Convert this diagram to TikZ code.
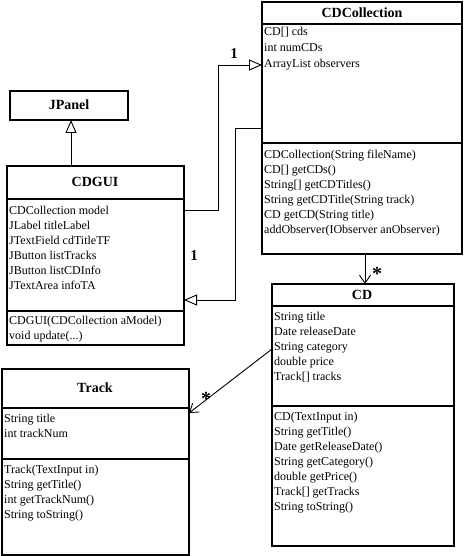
\documentclass[tikz,border=0pt]{standalone}
\usepackage{fontspec}
\setmainfont{Liberation Serif}
\newfontfamily\umlfont{Liberation Serif}
\usetikzlibrary{arrows.meta}
\begin{document}
\begin{tikzpicture}[x=1pt,y=-1pt,
  box/.style={draw, line width=2pt, anchor=north west, inner sep=0pt, outer sep=0pt},
  sep/.style={line width=1.6pt},
  attr/.style={anchor=west, inner sep=0pt, font=\umlfont\fontsize{12}{15}\selectfont, text height=9pt, text depth=3pt},
  ttl/.style={font=\umlfont\fontsize{14}{16}\selectfont\bfseries, inner sep=0pt},
  conn/.style={line width=0.9pt},
  gen/.style={conn, -{Triangle[open, length=13pt, width=11pt, line width=0.9pt]}},
  nav/.style={conn, -{Straight Barb[length=8pt, width=11pt, line width=0.9pt]}},
  mult/.style={font=\umlfont\fontsize{15}{16}\selectfont\bfseries, inner sep=0pt},
  star/.style={font=\umlfont\fontsize{20}{20}\selectfont\bfseries, inner sep=0pt}
]
\useasboundingbox (0,0) rectangle (464,556);

% CDCollection
\node[box, minimum width=200pt, minimum height=252pt] (cdc) at (262,2) {};
\draw[sep] (262,24) -- (462,24);
\draw[sep] (262,143) -- (462,143);
\node[ttl] (cdct) at (362,13) {CDCollection};
\node[attr] (cdcf1) at (264,33) {CD[] cds};
\node[attr] (cdcf2) at (264,49) {int numCDs};
\node[attr] (cdcf3) at (264,65) {ArrayList observers};
\node[attr] (cdcm1) at (264,155) {CDCollection(String fileName)};
\node[attr] (cdcm2) at (264,170) {CD[] getCDs()};
\node[attr] (cdcm3) at (264,185) {String[] getCDTitles()};
\node[attr] (cdcm4) at (264,200) {String getCDTitle(String track)};
\node[attr] (cdcm5) at (264,215) {CD getCD(String title)};
\node[attr] (cdcm6) at (264,230) {addObserver(IObserver anObserver)};

% JPanel
\node[box, minimum width=118pt, minimum height=29pt] (jp) at (10,91) {};
\node[ttl] (jpt) at (69,105) {JPanel};

% CDGUI
\node[box, minimum width=177pt, minimum height=179pt] (gui) at (7,166) {};
\draw[sep] (7,199) -- (184,199);
\draw[sep] (7,311) -- (184,311);
\node[ttl] (guit) at (95,182) {CDGUI};
\node[attr] (guif1) at (9,211) {CDCollection model};
\node[attr] (guif2) at (9,226) {JLabel titleLabel};
\node[attr] (guif3) at (9,241) {JTextField cdTitleTF};
\node[attr] (guif4) at (9,256) {JButton listTracks};
\node[attr] (guif5) at (9,271) {JButton listCDInfo};
\node[attr] (guif6) at (9,286) {JTextArea infoTA};
\node[attr] (guim1) at (9,321) {CDGUI(CDCollection aModel)};
\node[attr] (guim2) at (9,336) {void update(...)};

% CD
\node[box, minimum width=182pt, minimum height=262pt] (cd) at (272,284) {};
\draw[sep] (272,306) -- (454,306);
\draw[sep] (272,406) -- (454,406);
\node[ttl] (cdt) at (362,295) {CD};
\node[attr] (cdf1) at (274,317) {String title};
\node[attr] (cdf2) at (274,332) {Date releaseDate};
\node[attr] (cdf3) at (274,347) {String category};
\node[attr] (cdf4) at (274,362) {double price};
\node[attr] (cdf5) at (274,377) {Track[] tracks};
\node[attr] (cdm1) at (274,417) {CD(TextInput in)};
\node[attr] (cdm2) at (274,432) {String getTitle()};
\node[attr] (cdm3) at (274,447) {Date getReleaseDate()};
\node[attr] (cdm4) at (274,462) {String getCategory()};
\node[attr] (cdm5) at (274,477) {double getPrice()};
\node[attr] (cdm6) at (274,492) {Track[] getTracks};
\node[attr] (cdm7) at (274,507) {String toString()};

% Track
\node[box, minimum width=187pt, minimum height=186pt] (tr) at (2,369) {};
\draw[sep] (2,408) -- (189,408);
\draw[sep] (2,459) -- (189,459);
\node[ttl] (trt) at (95,388) {Track};
\node[attr] (trf1) at (4,419) {String title};
\node[attr] (trf2) at (4,434) {int trackNum};
\node[attr] (trm1) at (4,470) {Track(TextInput in)};
\node[attr] (trm2) at (4,485) {String getTitle()};
\node[attr] (trm3) at (4,500) {int getTrackNum()};
\node[attr] (trm4) at (4,515) {String toString()};

% connectors
\coordinate (b1) at (218,210);
\coordinate (b2) at (218,65);
\draw[gen] (gui.east |- b1) -- (b1) -- (b2) -- (cdc.west |- b2);
\coordinate (b3) at (235,128);
\coordinate (b4) at (235,300);
\draw[gen] (cdc.west |- b3) -- (b3) -- (b4) -- (gui.east |- b4);
\coordinate (b5) at (71,166);
\draw[gen] (b5) -- (jp.south -| b5);
\coordinate (b6) at (365,254);
\draw[nav] (b6) -- (cd.north -| b6);
\coordinate (b7) at (272,349);
\coordinate (b8) at (189,413);
\draw[nav] (b7) -- (b8);

% multiplicities
\node[mult] (m1) at (234,54) {1};
\node[mult] (m2) at (194,256) {1};
\node[star] (m3) at (377,274) {*};
\node[star] (m4) at (206,399) {*};
\end{tikzpicture}
\end{document}
